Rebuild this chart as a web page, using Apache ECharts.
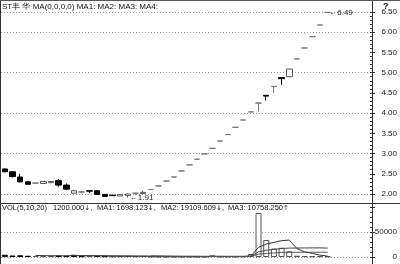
<!DOCTYPE html>
<html><head><meta charset="utf-8">
<script src="https://cdn.jsdelivr.net/npm/echarts@6/dist/echarts.min.js"></script>
<style>html,body{margin:0;padding:0;background:#fff}#c{width:400px;height:264px}</style>
</head><body><div id="c"></div>
<script>
const days = ['d01','d02','d03','d04','d05','d06','d07','d08','d09','d10','d11','d12','d13','d14','d15','d16','d17','d18','d19','d20','d21','d22','d23','d24','d25','d26','d27','d28','d29','d30','d31','d32','d33','d34','d35','d36','d37','d38','d39','d40','d41','d42','d43','d44','d45','d46','d47','d48'];
const opens  = [2.62,2.55,2.42,2.30,2.27,2.26,2.28,2.33,2.22,2.02,2.05,2.08,2.08,1.99,1.97,1.95,1.96,2.02,2.01,2.11,2.20,2.32,2.42,2.57,2.72,2.86,2.99,3.13,3.31,3.47,3.65,3.83,4.03,4.25,4.44,4.66,4.88,4.90,5.34,5.61,5.89,6.18,6.49];
const closes = [2.55,2.43,2.30,2.24,2.27,2.31,2.31,2.22,2.12,2.08,2.05,2.07,1.99,1.94,1.96,1.99,2.00,2.02,2.04,2.11,2.20,2.32,2.42,2.57,2.72,2.86,2.99,3.13,3.31,3.47,3.65,3.83,4.03,4.25,4.42,4.66,4.85,5.09,5.34,5.61,5.89,6.18,6.49];
const lows   = [2.54,2.41,2.29,2.23,2.25,2.25,2.27,2.18,2.11,2.01,2.02,2.02,1.98,1.93,1.95,1.95,1.91,1.97,1.99,2.11,2.20,2.32,2.42,2.57,2.72,2.86,2.99,3.13,3.31,3.47,3.65,3.83,4.03,4.04,4.31,4.50,4.70,4.90,5.34,5.61,5.89,6.18,6.49];
const highs  = [2.63,2.56,2.50,2.31,2.29,2.32,2.32,2.37,2.26,2.08,2.08,2.08,2.09,1.99,1.97,1.99,2.01,2.03,2.08,2.11,2.20,2.32,2.42,2.57,2.72,2.86,2.99,3.13,3.31,3.47,3.65,3.83,4.03,4.25,4.44,4.66,4.88,5.09,5.34,5.61,5.89,6.18,6.49];
const volumes = [4500,3000,3500,2500,2000,2500,2000,3000,2600,4500,1500,1800,2200,1500,1200,1400,1800,1500,1700,800,600,500,500,600,500,500,600,3500,700,600,800,900,6000,88000,34000,17000,18500,11500,2600,1800,1500,1400,1200];
const volMA5  = [null,null,null,null,3100,2700,2500,2400,2420,2920,2720,2680,2520,2300,1640,1620,1620,1480,1520,1440,1280,1020,820,600,540,520,540,1140,1160,1180,1240,1300,1800,19260,25940,29180,32700,33800,16720,10280,7180,3760,1700];
const volMA10 = [null,null,null,null,null,null,null,null,null,3010,2710,2590,2460,2360,2280,2170,2150,2000,1910,1540,1450,1320,1150,1060,990,900,780,980,880,860,880,920,1470,10210,13560,15210,17000,17800,17990,18110,18180,18230,17750];
const volMA20 = [null,null,null,null,null,null,null,null,null,null,null,null,null,null,null,null,null,null,null,2275,2080,1955,1805,1710,1635,1535,1465,1490,1395,1200,1165,1120,1310,5635,7275,8055,8890,9390,9435,9485,9530,9575,9610];
const mainTitle = 'ST丰 华 MA(0,0,0,0) MA1: MA2: MA3: MA4:';
const volTitleParts = ['VOL(5,10,20)', '1200.000{a|↓},', 'MA1: 1698.123{a|↓},', 'MA2: 19109.609{a|↓},', 'MA3: 10758.250{a|↑}'];

const FONT = 'Liberation Sans';
const candles = opens.map((o, i) => [o, closes[i], lows[i], highs[i]]);
const iMax = highs.indexOf(Math.max(...highs));
const iMin = lows.indexOf(Math.min(...lows));
function volUp(i) {
  if (i === 0) return closes[0] >= opens[0];
  return closes[i] >= closes[i - 1];
}
const volData = volumes.map((v, i) => ({
  value: v,
  itemStyle: volUp(i) ? {color: '#fff', borderColor: '#555', borderWidth: 1} : {color: '#000', borderColor: '#000', borderWidth: 1}
}));
const dotted = {color: '#999', type: [1, 2], width: 1};
const partX = [2, 53, 97, 161, 228];
const volTitleGraphics = volTitleParts.map((t, i) => ({
  type: 'text', left: partX[i], top: 204,
  style: {text: t, fontSize: 7.5, fontFamily: FONT, fill: '#111',
          rich: {a: {fontSize: 7, fontFamily: 'DejaVu Sans', fill: '#111'}}}
}));

const chart = echarts.init(document.getElementById('c'));
chart.setOption({
  animation: false,
  textStyle: {fontFamily: FONT},
  grid: [
    {left: 1, right: 28, top: 12, bottom: 70},
    {left: 1, right: 28, top: 207, bottom: 7}
  ],
  xAxis: [
    {type: 'category', data: days, gridIndex: 0, show: false},
    {type: 'category', data: days, gridIndex: 1, show: false}
  ],
  yAxis: [
    {gridIndex: 0, type: 'value', position: 'right', min: 2, max: 6.5, interval: 0.5,
     axisLine: {show: false},
     axisTick: {show: true, length: 5, lineStyle: {color: '#333'}},
     minorTick: {show: true, splitNumber: 5, length: 2, lineStyle: {color: '#333'}},
     axisLabel: {fontSize: 8, color: '#222', align: 'right', margin: 27, fontFamily: FONT, formatter: v => v.toFixed(2)},
     splitLine: {show: false}},
    {gridIndex: 0, type: 'value', position: 'right', min: 2, max: 6.5, interval: 1,
     axisLine: {show: false}, axisTick: {show: false}, axisLabel: {show: false},
     splitLine: {show: true, lineStyle: dotted}},
    {gridIndex: 1, type: 'value', position: 'right', min: 0, max: 100000, interval: 50000,
     axisLine: {show: false},
     axisTick: {show: true, length: 5, lineStyle: {color: '#333'}},
     minorTick: {show: true, splitNumber: 5, length: 2, lineStyle: {color: '#333'}},
     axisLabel: {fontSize: 8, color: '#222', align: 'right', margin: 27, fontFamily: FONT, formatter: v => v === 100000 ? '' : String(v)},
     splitLine: {show: true, showMaxLine: false, lineStyle: dotted}}
  ],
  series: [
    {type: 'candlestick', xAxisIndex: 0, yAxisIndex: 0, data: candles, barWidth: 6, clip: false,
     itemStyle: {color: '#fff', color0: '#000', borderColor: '#555', borderColor0: '#000', borderColorDoji: '#777', borderWidth: 1},
     markPoint: {symbol: 'circle', symbolSize: 1, animation: false, z: 10,
       itemStyle: {color: 'rgba(0,0,0,0)'},
       label: {show: true, position: 'right', distance: 1, fontSize: 8, color: '#222', fontFamily: FONT,
               formatter: p => '←' + Number(p.value).toFixed(2)},
       data: [
         {name: 'max', coord: [days[iMax], highs[iMax]], value: highs[iMax]}
       ]}},
    {type: 'bar', xAxisIndex: 1, yAxisIndex: 2, data: volData, barWidth: 6},
    {type: 'line', xAxisIndex: 1, yAxisIndex: 2, data: volMA5, showSymbol: false, lineStyle: {color: '#333', width: 1}},
    {type: 'line', xAxisIndex: 1, yAxisIndex: 2, data: volMA10, showSymbol: false, lineStyle: {color: '#444', width: 1}},
    {type: 'line', xAxisIndex: 1, yAxisIndex: 2, data: volMA20, showSymbol: false, lineStyle: {color: '#555', width: 1}}
  ],
  graphic: [
    {type: 'line', shape: {x1: 372.5, y1: 0, x2: 372.5, y2: 264}, style: {stroke: '#333', lineWidth: 1}},
    {type: 'line', shape: {x1: 0, y1: 203.5, x2: 400, y2: 203.5}, style: {stroke: '#333', lineWidth: 1}},
    {type: 'line', shape: {x1: 0.5, y1: 0, x2: 0.5, y2: 264}, style: {stroke: '#333', lineWidth: 1}},
    {type: 'line', shape: {x1: 0, y1: 0.5, x2: 400, y2: 0.5}, style: {stroke: '#555', lineWidth: 1}},
    {type: 'text', left: 2, top: 3, style: {text: mainTitle, fontSize: 8, fontFamily: FONT, fill: '#111'}},
    {type: 'text', left: 383, top: 2, style: {text: '?', fontSize: 9, fontWeight: 'bold', fontFamily: FONT, fill: '#111'}}
  ].concat(volTitleGraphics)
});
// low marker label placed through the chart's own scales
const pMin = chart.convertToPixel({xAxisIndex: 0, yAxisIndex: 0}, [iMin, lows[iMin]]);
chart.setOption({
  graphic: [{type: 'text', id: 'minLabel', x: pMin[0] + 2, y: pMin[1] - 4, z: 100,
    style: {text: '←' + lows[iMin].toFixed(2), fontSize: 8, fontFamily: FONT, fill: '#222'}}]
});
</script></body></html>
